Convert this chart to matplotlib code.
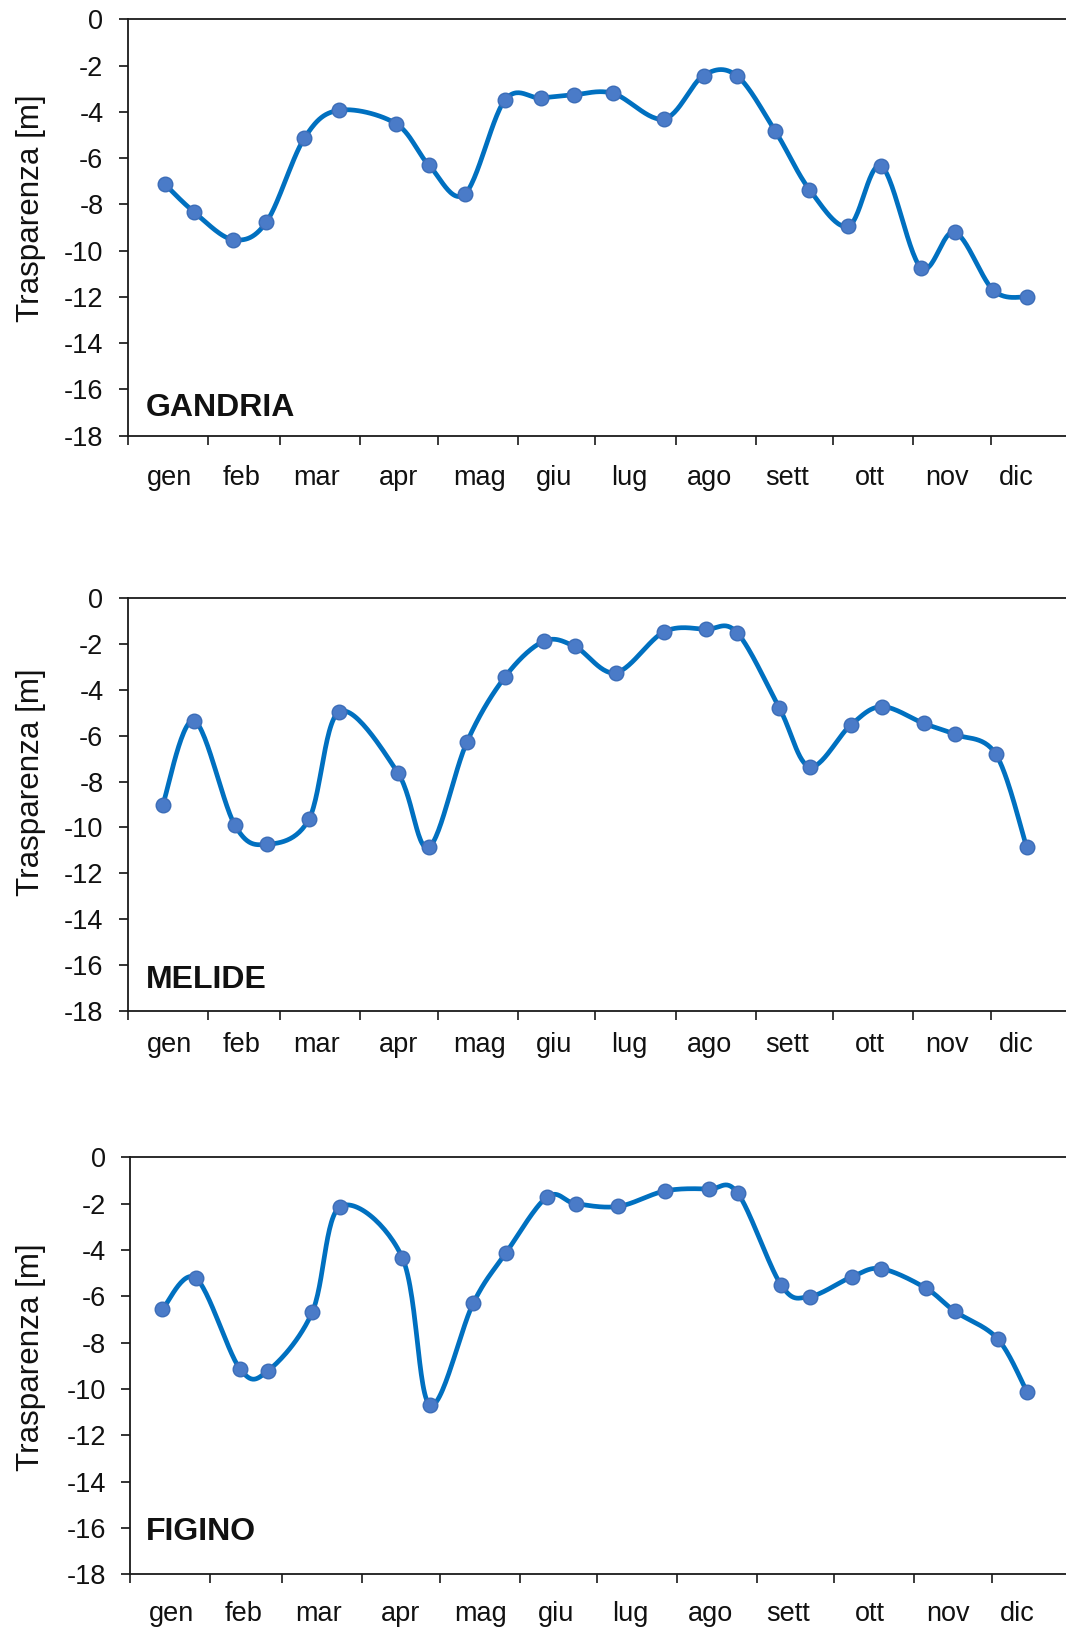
import numpy as np
import matplotlib
matplotlib.use("Agg")
from matplotlib import pyplot as plt

plt.rcParams['font.family'] = ['Liberation Sans', 'DejaVu Sans']
plt.rcParams['axes.unicode_minus'] = False

# Day of year of each sampling and transparency (Secchi depth, negative down)
giorni_gandria = [14.5, 25.6, 40.7, 53.7, 68.4, 81.9, 103.8, 116.4, 130.4, 145.9, 159.8, 172.8,
                  187.8, 207.5, 222.8, 235.8, 250.6, 263.8, 278.9, 291.6, 306.9, 320.0, 335.0, 347.8]
gandria = [-7.14, -8.32, -9.52, -8.76, -5.13, -3.93, -4.51, -6.28, -7.56, -3.50, -3.40, -3.26,
           -3.20, -4.31, -2.43, -2.45, -4.84, -7.36, -8.94, -6.35, -10.73, -9.20, -11.72, -12.01]

giorni_melide = [13.5, 25.6, 41.5, 53.8, 70.1, 81.9, 104.6, 116.4, 131.2, 146.0, 160.9, 173.0,
                 188.8, 207.6, 223.8, 235.8, 252.2, 263.9, 279.7, 291.8, 308.0, 320.0, 335.9, 347.8]
melide = [-9.04, -5.34, -9.91, -10.74, -9.65, -4.95, -7.63, -10.87, -6.29, -3.43, -1.88, -2.10,
          -3.25, -1.46, -1.35, -1.50, -4.80, -7.35, -5.54, -4.73, -5.46, -5.94, -6.80, -10.84]

giorni_figino = [12.5, 25.5, 42.6, 53.5, 70.6, 81.4, 105.5, 116.2, 133.0, 145.7, 161.7, 172.7,
                 189.3, 207.5, 224.4, 235.6, 252.5, 263.5, 280.0, 291.3, 308.4, 319.8, 336.4, 347.7]
figino = [-6.56, -5.22, -9.14, -9.21, -6.68, -2.13, -4.33, -10.69, -6.30, -4.13, -1.71, -2.00,
          -2.12, -1.45, -1.37, -1.55, -5.53, -6.01, -5.15, -4.81, -5.64, -6.65, -7.84, -10.12]

stazioni = ['GANDRIA', 'MELIDE', 'FIGINO']
mesi = ['gen', 'feb', 'mar', 'apr', 'mag', 'giu', 'lug', 'ago', 'sett', 'ott', 'nov', 'dic']
giorni_mese = [31, 28, 31, 30, 31, 30, 31, 31, 30, 31, 30, 31]
pos_etichette = [16, 44, 73, 105, 136, 165, 194, 225, 255, 287, 317, 344]
tick_prof = list(range(0, -19, -2))

inizio_mese = np.concatenate([[0], np.cumsum(giorni_mese)[:-1]])

W, H = 1066, 1629
# pixel boxes: left, top, right, bottom ; label baseline offset ; ylabel centre ; station text y
pannelli = [
    (127.7, 19.3, 1071.0, 435.7, 49, 0.546, 0.048),
    (127.7, 598.3, 1071.0, 1010.7, 41, 0.553, 0.054),
    (130.2, 1157.3, 1071.5, 1574.3, 47, 0.520, 0.082),
]
serie = [(giorni_gandria, gandria), (giorni_melide, melide), (giorni_figino, figino)]

LINEA = '#0070c0'
PUNTO = '#4a7bc8'
BORDO = '#3c6db8'
TESTO = '#111111'


def smooth(x, y, n=30):
    # Bezier smoothing through the points (Catmull-Rom control points)
    p = np.column_stack([x, y]).astype(float)
    p_ext = np.vstack([p[0], p, p[-1]])
    out = []
    t = np.linspace(0, 1, n)[:, None]
    for i in range(len(p) - 1):
        p0, p1, p2, p3 = p_ext[i], p_ext[i + 1], p_ext[i + 2], p_ext[i + 3]
        c1 = p1 + (p2 - p0) / 6.0
        c2 = p2 - (p3 - p1) / 6.0
        seg = ((1 - t) ** 3) * p1 + 3 * ((1 - t) ** 2) * t * c1 + 3 * (1 - t) * t ** 2 * c2 + t ** 3 * p2
        out.append(seg if i == 0 else seg[1:])
    out = np.vstack(out)
    return out[:, 0], out[:, 1]


fig = plt.figure(figsize=(W / 100, H / 100), dpi=100)

for (l, t, r, b, lab_off, ylab_y, st_y), (gx, gy), nome in zip(pannelli, serie, stazioni):
    ax = fig.add_axes([l / W, (H - b) / H, (r - l) / W, (b - t) / H])
    sx, sy = smooth(gx, gy)
    ax.plot(sx, sy, color=LINEA, lw=3.4, solid_capstyle='round', zorder=3)
    ax.plot(gx, gy, 'o', ms=10.5, mfc=PUNTO, mec=BORDO, mew=1.0, zorder=4)

    ax.set_xlim(0, 365)
    ax.set_ylim(-18, 0)
    ax.set_yticks(tick_prof)
    ax.set_xticks(inizio_mese)
    ax.set_xticklabels([])
    ax.set_xticks(pos_etichette, minor=True)
    ax.set_xticklabels(mesi, minor=True)

    for s in ['top', 'left', 'bottom']:
        ax.spines[s].set_linewidth(1.3)
        ax.spines[s].set_color('#1a1a1a')
    ax.spines['right'].set_visible(False)

    ax.tick_params(axis='y', direction='out', length=6.5, width=1.2, pad=11,
                   labelsize=19.5, colors=TESTO)
    ax.tick_params(axis='x', which='major', direction='out', length=6.5, width=1.2, color='#1a1a1a')
    ax.tick_params(axis='x', which='minor', length=0, pad=lab_off * 0.72,
                   labelsize=19.5, labelcolor=TESTO)
    for lbl in ax.get_xticklabels(minor=True):
        lbl.set_verticalalignment('baseline')

    ylab = ax.set_ylabel('Trasparenza [m]', fontsize=22.6, color=TESTO)
    ylab.set_verticalalignment('center')
    ax.yaxis.set_label_coords((31 - l) / (r - l), ylab_y)

    ax.text((146 - l) / (r - l), st_y, nome, transform=ax.transAxes,
            fontsize=23, fontweight='bold', color=TESTO, ha='left', va='baseline')

fig.savefig('out.png', dpi=100)
